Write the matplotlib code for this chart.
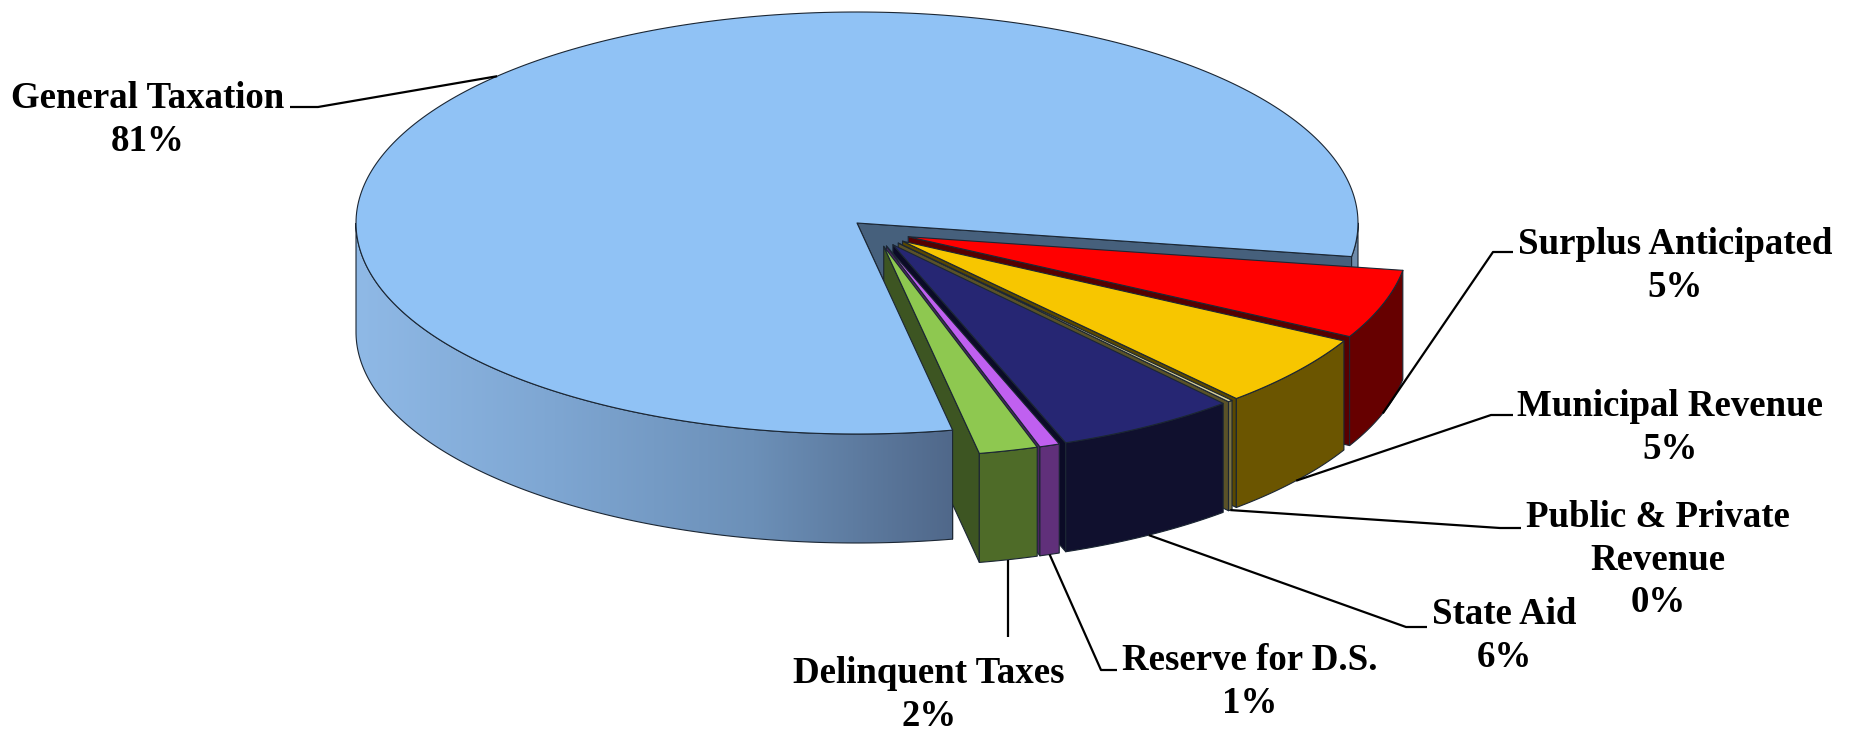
import numpy as np
import matplotlib
matplotlib.use('Agg')
import matplotlib.pyplot as plt
from matplotlib.patches import Polygon
from matplotlib.colors import LinearSegmentedColormap

plt.rcParams['font.family'] = ['Liberation Serif', 'DejaVu Serif']

# data, main slice first, then the small slices from back to front
categories = ['General Taxation', 'Surplus Anticipated', 'Municipal Revenue',
              'Public & Private\nRevenue', 'State Aid', 'Reserve for D.S.', 'Delinquent Taxes']
shares = [80.6, 5.3, 5.55, 0.15, 5.85, 0.65, 1.9]
pct_labels = ['81%', '5%', '5%', '0%', '6%', '1%', '2%']

top_colors = ['#90c2f5', '#ff0000', '#f7c600', '#d8d09a', '#262673', '#c060f0', '#8ec850']
wall_colors = ['#5a7797', '#660000', '#6b5500', '#7a7040', '#10102e', '#60307a', '#4e6b28']
side_colors = ['#46607c', '#560000', '#5a4800', '#5a5228', '#0b0b26', '#4a2460', '#3d5522']

# layout in pixels
CX, CY = 857, 223
RX, RY = 501, 211
DEPTH = 109
EXPLODE = 0.07
SHIFT_X, SHIFT_Y = 18, 9
START = -79
EDGE = '#1b2633'

label_xy = [(148, 120), (1675, 266), (1670, 428), (1658, 560), (1504, 636), (1250, 682), (929, 695)]
elbow_from = [(290, 107), (1513, 252), (1513, 415), (1521, 528), (1427, 627), (1117, 670), None]
elbow_mid = [(318, 107), (1493, 252), (1491, 415), (1500, 528), (1406, 627), (1101, 670), None]

fig = plt.figure(figsize=(18.53, 7.3), dpi=100)
ax = fig.add_axes([0, 0, 1, 1])
ax.set_xlim(0, 1853)
ax.set_ylim(730, 0)
ax.axis('off')


def arc(cx, cy, a0, a1, n=80):
    t = np.radians(np.linspace(a0, a1, n))
    return np.column_stack([cx + RX * np.cos(t), cy - RY * np.sin(t)])


def drop(pts):
    return pts + np.array([0, DEPTH])


def wall(pts):
    return np.vstack([pts, drop(pts)[::-1]])


def add(pts, color, z):
    ax.add_patch(Polygon(pts, closed=True, fc=color, ec=EDGE, lw=0.8, zorder=z, joinstyle='round'))


sweeps = np.array(shares) * 3.6
# small slices run from the START ray counter-clockwise, last listed first
edges = START + np.concatenate([[0], np.cumsum(sweeps[1:][::-1])])
notch_end = edges[-1]
slices = []
for k, i in enumerate(range(len(shares) - 1, 0, -1)):
    slices.append((i, edges[k], edges[k + 1]))
slices = slices[::-1]

# inside of the notch and the sliver of back wall on the right
end_ray = np.array([[CX, CY], arc(CX, CY, notch_end, notch_end, 1)[0]])
start_ray = np.array([[CX, CY], arc(CX, CY, START, START, 1)[0]])
add(wall(end_ray), side_colors[0], 1)
add(wall(start_ray), side_colors[0], 1)
add(wall(arc(CX, CY, notch_end, 0, 20)), '#6f8cab', 1)

anchors = {}
z = 2
for i, a0, a1 in slices:
    mid = np.radians((a0 + a1) / 2)
    ox = CX + SHIFT_X + EXPLODE * RX * np.cos(mid)
    oy = CY + SHIFT_Y - EXPLODE * RY * np.sin(mid)
    rim = arc(ox, oy, a0, a1, 30)
    ray = np.array([[ox, oy], rim[0]])
    add(wall(ray), side_colors[i], z)
    add(wall(rim), wall_colors[i], z + 0.1)
    add(np.vstack([[ox, oy], rim]), top_colors[i], z + 0.2)
    anchors[i] = arc(ox, oy, np.degrees(mid), np.degrees(mid), 1)[0] + [0, DEPTH]
    z += 1

# main slice goes over the small ones, its top hides their inner walls
front = arc(CX, CY, 180, 360 + START, 160)
front_wall = Polygon(wall(front), closed=True, fc='none', ec=EDGE, lw=0.8, zorder=20)
ax.add_patch(front_wall)
shade = LinearSegmentedColormap.from_list('shade', ['#8fb9e6', '#7ea6d2', '#6c90b8', '#50688a'])
img = ax.imshow(np.linspace(0, 1, 256).reshape(1, -1), cmap=shade, aspect='auto',
                extent=(CX - RX, front[:, 0].max(), 730, 0), zorder=19.5)
img.set_clip_path(front_wall)
ax.set_xlim(0, 1853)
ax.set_ylim(730, 0)

main_arc = arc(CX, CY, notch_end, 360 + START, 300)
add(np.vstack([[CX, CY], main_arc]), top_colors[0], 21)

mid_main = (notch_end + 360 + START) / 2
anchors[0] = arc(CX, CY, mid_main, mid_main, 1)[0]

# leaders and labels
for i, name in enumerate(categories):
    a = anchors[i]
    if elbow_from[i] is None:
        xs, ys = [a[0], a[0]], [a[1], 637]
    else:
        xs = [elbow_from[i][0], elbow_mid[i][0], a[0]]
        ys = [elbow_from[i][1], elbow_mid[i][1], a[1]]
    ax.plot(xs, ys, color='black', lw=1.6, zorder=30, solid_capstyle='butt')
    ax.text(label_xy[i][0], label_xy[i][1], name + '\n' + pct_labels[i], ha='center', va='center',
            fontsize=26.6, fontweight='bold', color='black', linespacing=1.26, zorder=31)

fig.savefig('out.png', dpi=100)
